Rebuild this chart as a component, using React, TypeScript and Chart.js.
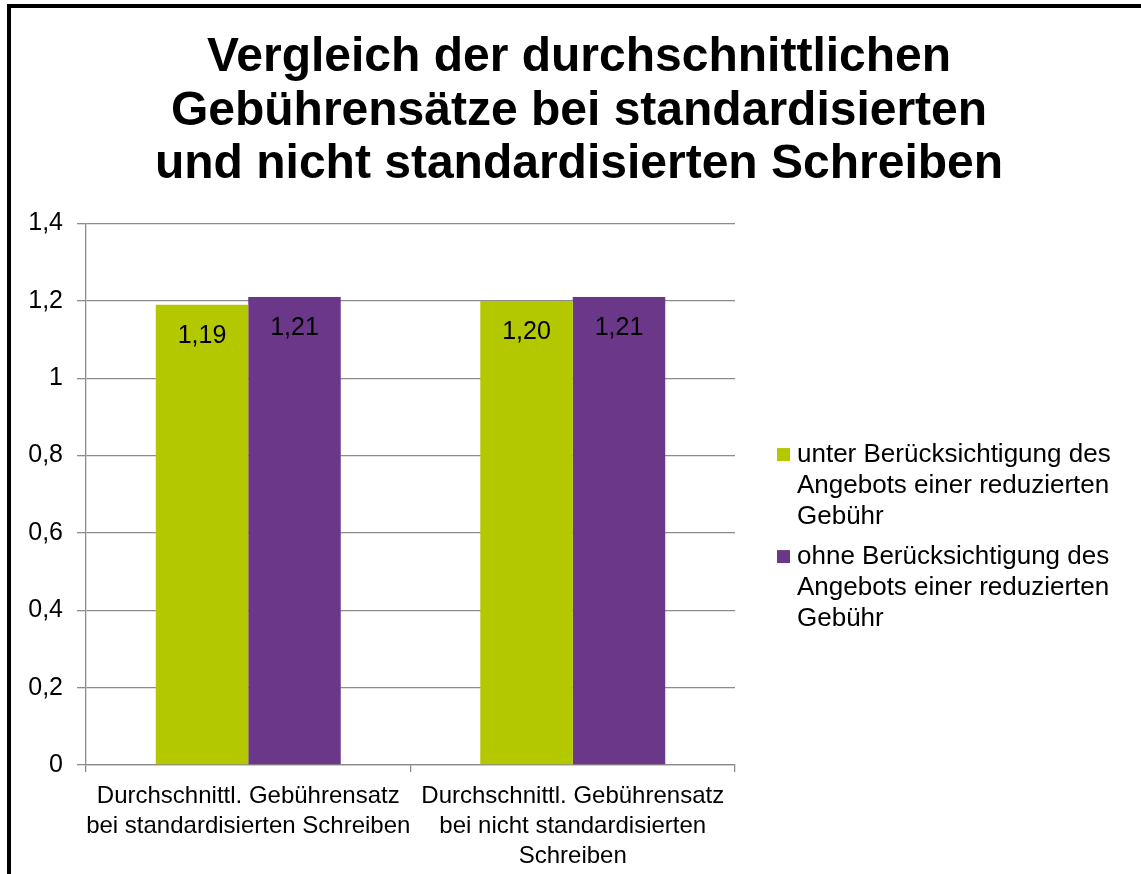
import React, { useEffect, useRef } from "react";
import { Chart, registerables } from "chart.js";

Chart.register(...registerables);

const FONT = "'Liberation Sans', Arial, Helvetica, sans-serif";

const titleLines = [
  "Vergleich der durchschnittlichen",
  "Gebührensätze bei standardisierten",
  "und nicht standardisierten Schreiben",
];

const categories = [
  ["Durchschnittl. Gebührensatz", "bei standardisierten Schreiben"],
  ["Durchschnittl. Gebührensatz", "bei nicht standardisierten", "Schreiben"],
];

const seriesNames = [
  "unter Berücksichtigung des Angebots einer reduzierten Gebühr",
  "ohne Berücksichtigung des Angebots einer reduzierten Gebühr",
];

const legendLines = [
  ["unter Berücksichtigung des", "Angebots einer reduzierten", "Gebühr"],
  ["ohne Berücksichtigung des", "Angebots einer reduzierten", "Gebühr"],
];

const withReduction = [1.19, 1.2];
const withoutReduction = [1.21, 1.21];

const seriesColors = ["#B4C800", "#6B3788"];

const yMin = 0;
const yMax = 1.4;
const yStep = 0.2;

const fmt = (v: number, d: number) => v.toFixed(d).replace(".", ",");

const labelsPlugin = {
  id: "valueLabels",
  afterDatasetsDraw(chart: any) {
    const { ctx } = chart;
    ctx.save();
    ctx.font = `25px ${FONT}`;
    ctx.fillStyle = "#000";
    ctx.textAlign = "center";
    ctx.textBaseline = "middle";
    chart.data.datasets.forEach((ds: any, i: number) => {
      const meta = chart.getDatasetMeta(i);
      meta.data.forEach((el: any, j: number) => {
        ctx.fillText(fmt(ds.data[j], 2), el.x, el.y + 31);
      });
    });
    ctx.restore();
  },
};

const legendPlugin = {
  id: "customLegend",
  afterDraw(chart: any) {
    const { ctx, chartArea } = chart;
    ctx.save();
    ctx.font = `26px ${FONT}`;
    ctx.textAlign = "left";
    ctx.textBaseline = "middle";
    let y = chartArea.top + 231;
    chart.data.datasets.forEach((ds: any, i: number) => {
      ctx.fillStyle = ds.backgroundColor;
      ctx.fillRect(chartArea.right + 42, y - 6.5, 13, 13);
      ctx.fillStyle = "#000";
      legendLines[i].forEach((ln, j) => {
        ctx.fillText(ln, chartArea.right + 62, y + j * 31);
      });
      y += 102;
    });
    ctx.restore();
  },
};

export default function App() {
  const ref = useRef<HTMLCanvasElement | null>(null);

  useEffect(() => {
    if (!ref.current) return;
    const chart = new Chart(ref.current, {
      type: "bar",
      data: {
        labels: categories as any,
        datasets: [
          {
            label: seriesNames[0],
            data: withReduction,
            backgroundColor: seriesColors[0],
            categoryPercentage: 0.57,
            barPercentage: 1,
          },
          {
            label: seriesNames[1],
            data: withoutReduction,
            backgroundColor: seriesColors[1],
            categoryPercentage: 0.57,
            barPercentage: 1,
          },
        ],
      },
      options: {
        responsive: false,
        animation: false,
        layout: { padding: { left: 17, right: 0, top: 0, bottom: 0 } },
        plugins: {
          legend: { display: false },
          tooltip: { enabled: false },
          title: {
            display: true,
            text: titleLines,
            color: "#000",
            font: { family: FONT, size: 48, weight: "bold", lineHeight: 1.115 },
            padding: { top: 31, bottom: 32 },
          },
        },
        scales: {
          x: {
            offset: true,
            grid: {
              offset: true,
              drawOnChartArea: false,
              drawTicks: true,
              tickLength: 7,
              color: "#8c8c8c",
              lineWidth: 1.3,
            },
            border: { display: true, color: "#8c8c8c", width: 1.3 },
            ticks: {
              color: "#000",
              padding: 9,
              maxRotation: 0,
              autoSkip: false,
              font: { family: FONT, size: 24, lineHeight: 1.25 },
            },
            afterFit: (s: any) => {
              s.height = 109;
            },
          },
          y: {
            min: yMin,
            max: yMax,
            grid: {
              color: "#8c8c8c",
              lineWidth: 1.3,
              tickLength: 9,
              drawTicks: true,
            },
            border: { display: true, color: "#8c8c8c", width: 1.3 },
            ticks: {
              stepSize: yStep,
              color: "#000",
              padding: 14,
              font: { family: FONT, size: 25 },
              callback: (v: any) => fmt(Math.round(Number(v) * 10) / 10, Number(v) % 1 === 0 ? 0 : 1).replace(/,0$/, ""),
            },
            afterFit: (s: any) => {
              s.width = 69;
            },
          },
          yR: {
            type: "linear",
            position: "right",
            display: true,
            grid: { display: false, drawTicks: false },
            border: { display: false },
            ticks: { display: false },
            afterFit: (s: any) => {
              s.width = 406;
            },
          },
        },
      },
      plugins: [labelsPlugin, legendPlugin],
    } as any);
    return () => chart.destroy();
  }, []);

  return (
    <div
      style={{
        position: "fixed",
        left: 0,
        top: 0,
        width: 1141,
        height: 874,
        overflow: "hidden",
        background: "#fff",
      }}
    >
      <div
        style={{
          position: "absolute",
          left: 7,
          top: 4,
          width: 1300,
          height: 1100,
          border: "4px solid #000",
          boxSizing: "border-box",
        }}
      />
      <canvas
        ref={ref}
        width={1141}
        height={874}
        style={{ position: "absolute", left: 0, top: 0, width: 1141, height: 874 }}
      />
    </div>
  );
}
